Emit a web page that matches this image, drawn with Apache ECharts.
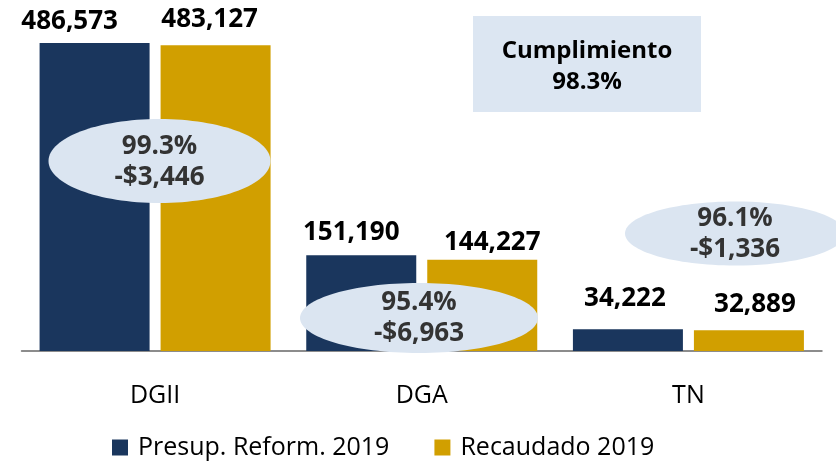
<!DOCTYPE html>
<html>
<head>
<meta charset="utf-8">
<script src="https://cdn.jsdelivr.net/npm/echarts@6/dist/echarts.min.js"></script>
<style>
  html, body { margin: 0; padding: 0; background: #fff; }
  #chart { width: 836px; height: 462px; }
</style>
</head>
<body>
<div id="chart"></div>
<script>
// datos
const categories = ['DGII', 'DGA', 'TN']
const presupuesto = [486573, 151190, 34222]
const recaudado = [483127, 144227, 32889]
const cumplimientoCat = ['99.3%', '95.4%', '96.1%']
const diferencia = ['-$3,446', '-$6,963', '-$1,336']
const cumplimientoTotal = '98.3%'

// desplazamiento manual de las etiquetas (como en la lámina original)
const offsetsPresup = [[-25, -3], [-10, -5], [-3, -13]]
const offsetsRecaud = [[-6, -8], [10, 1], [6, -8]]

const font = 'Open Sans'
const azul = '#1a365d'
const oro = '#d19f00'
const globo = '#dbe5f1'

const fmt = v => v.toLocaleString('en-US')

const withLabels = (values, offsets) =>
  values.map((v, i) => ({ value: v, label: { offset: offsets[i] } }))

const myChart = echarts.init(document.getElementById('chart'))

// globos con cumplimiento y diferencia
const globos = [
  { cx: 159.5, cy: 161, rx: 111, ry: 42, ty: 162.5 },
  { cx: 419, cy: 318, rx: 119, ry: 35, ty: 318 },
  { cx: 735, cy: 233.5, rx: 110, ry: 32, ty: 234 }
]
const graphic = []
globos.forEach((g, i) => {
  graphic.push({
    type: 'ellipse', z: 100,
    shape: { cx: g.cx, cy: g.cy, rx: g.rx, ry: g.ry },
    style: { fill: globo }
  })
  graphic.push({
    type: 'text', z: 101, x: g.cx, y: g.ty,
    style: {
      text: cumplimientoCat[i] + '\n' + diferencia[i],
      font: 'bold 26px "Open Sans"', fill: '#333',
      align: 'center', verticalAlign: 'middle', lineHeight: 31
    }
  })
})
graphic.push({
  type: 'rect', z: 100,
  shape: { x: 473, y: 16, width: 228, height: 96 },
  style: { fill: '#dce6f2' }
})
graphic.push({
  type: 'text', z: 101, x: 587, y: 66.5,
  style: {
    text: 'Cumplimiento\n' + cumplimientoTotal,
    font: 'bold 24px "Open Sans"', fill: '#000',
    align: 'center', verticalAlign: 'middle', lineHeight: 31
  }
})

myChart.setOption({
  animation: false,
  grid: { left: 21.75, right: 14.25, top: 34.5, bottom: 111 },
  legend: {
    left: 107, top: 430,
    itemWidth: 16, itemHeight: 16, itemGap: 45,
    icon: 'rect',
    textStyle: { fontFamily: font, fontSize: 25, color: '#000', padding: [0, 0, 0, 5] },
    data: ['Presup. Reform. 2019', 'Recaudado 2019']
  },
  xAxis: {
    type: 'category',
    data: categories,
    axisTick: { show: false },
    axisLine: { lineStyle: { color: '#8c8c8c', width: 2 } },
    axisLabel: { fontFamily: font, fontSize: 25, color: '#000', margin: 32 }
  },
  yAxis: {
    type: 'value', min: 0, max: 500000,
    show: false, splitLine: { show: false }
  },
  series: [
    {
      name: 'Presup. Reform. 2019', type: 'bar',
      barWidth: 110, barGap: '10%',
      itemStyle: { color: azul },
      label: {
        show: true, position: 'top', distance: 5,
        fontFamily: font, fontSize: 26, fontWeight: 'bold', color: '#000',
        formatter: p => fmt(p.value)
      },
      data: withLabels(presupuesto, offsetsPresup)
    },
    {
      name: 'Recaudado 2019', type: 'bar',
      barWidth: 110, barGap: '10%',
      itemStyle: { color: oro },
      label: {
        show: true, position: 'top', distance: 5,
        fontFamily: font, fontSize: 26, fontWeight: 'bold', color: '#000',
        formatter: p => fmt(p.value)
      },
      data: withLabels(recaudado, offsetsRecaud)
    }
  ],
  graphic: graphic
})
</script>
</body>
</html>
